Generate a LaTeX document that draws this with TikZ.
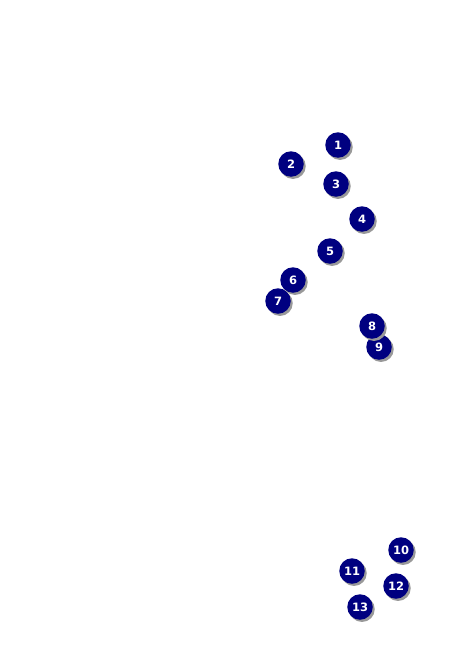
\documentclass[tikz,border=0pt]{standalone}
\usepackage{fontspec}
\setmainfont{DejaVu Sans}
\tikzset{
  badge/.style={circle, fill={rgb,255:red,0;green,0;blue,128}, minimum size=25.5pt, inner sep=0pt,
    text=white, font=\fontsize{11.5}{12}\selectfont\bfseries,
    preaction={fill=black!40, transform canvas={shift={(2pt,-2.2pt)}}}},
}
\begin{document}
\begin{tikzpicture}[x=1pt,y=-1pt]
\useasboundingbox (0,0) rectangle (459,648);
\fill[white] (0,0) rectangle (459,648);
\node[badge] (n13) at (360,607) {13};
\node[badge] (n12) at (396,586) {12};
\node[badge] (n11) at (352,571) {11};
\node[badge] (n10) at (401,550) {10};
\node[badge] (n9) at (379,347) {9};
\node[badge] (n8) at (372,326) {8};
\node[badge] (n7) at (278,301) {7};
\node[badge] (n6) at (293,280) {6};
\node[badge] (n5) at (330,251) {5};
\node[badge] (n4) at (362,219) {4};
\node[badge] (n3) at (336,184) {3};
\node[badge] (n2) at (291,164) {2};
\node[badge] (n1) at (338,145) {1};
\end{tikzpicture}
\end{document}
